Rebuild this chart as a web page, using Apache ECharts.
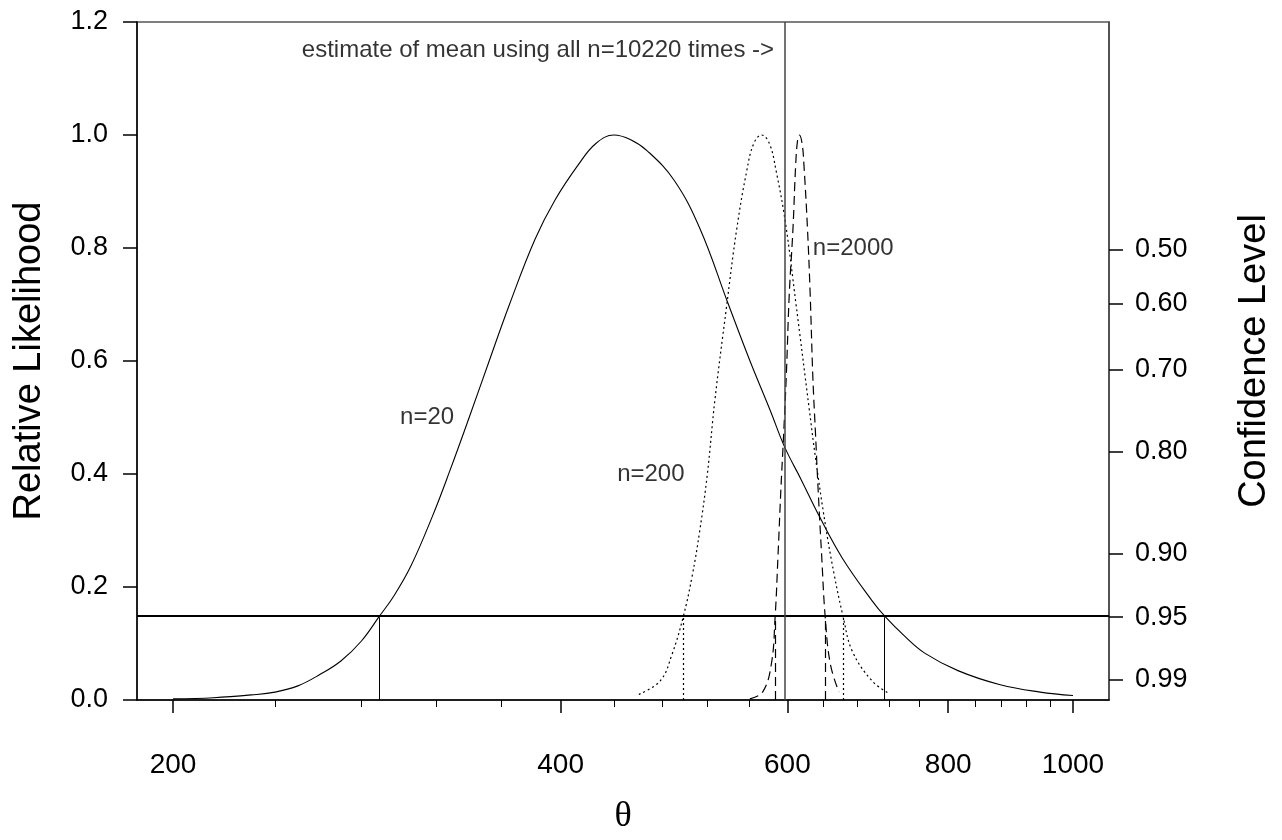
<!DOCTYPE html>
<html><head><meta charset="utf-8">
<script src="https://cdn.jsdelivr.net/npm/echarts@6/dist/echarts.min.js"></script>
<style>html,body{margin:0;padding:0;background:#fff}#c{width:1282px;height:840px}</style>
</head><body><div id="c"></div>
<script>
// ---- data ----
const xMajorTicks = [200, 400, 600, 800, 1000];
const xMinorTicks = [240, 280, 320, 360, 440, 480, 520, 560, 640, 680, 720, 760, 840, 880, 920, 960];
const confLabels = ['0.50', '0.60', '0.70', '0.80', '0.90', '0.95', '0.99'];
const confLikelihood = [0.7965, 0.7022, 0.5844, 0.4399, 0.2585, 0.1465, 0.0362];
const cutoff95 = 0.1465;
const meanAll = 597;

const n20 = [[200,0.002],[215,0.004],[230,0.009],[240,0.014],[250,0.025],[260,0.045],[270,0.069],[280,0.104],[289,0.147],[297,0.185],[306,0.237],[318,0.325],[328,0.405],[340,0.503],[352,0.60],[365,0.70],[382,0.815],[396,0.885],[413,0.948],[426,0.985],[440,1.0],[453,0.992],[467,0.972],[490,0.92],[513,0.835],[540,0.70],[561,0.601],[582,0.512],[597,0.448],[615,0.39],[635,0.326],[662,0.251],[698,0.176],[715,0.147],[740,0.113],[767,0.083],[814,0.052],[878,0.027],[943,0.014],[1000,0.008]];
const n200 = [[460,0.01],[478,0.034],[488,0.08],[498,0.147],[506,0.219],[513,0.30],[520,0.40],[527,0.53],[538,0.694],[548,0.833],[558,0.937],[565,0.985],[573,1.0],[581,0.985],[588,0.937],[598,0.844],[609,0.705],[624,0.514],[631,0.428],[642,0.312],[652,0.225],[663,0.147],[674,0.086],[698,0.034],[719,0.012]];
const n2000 = [[561,0.002],[574,0.014],[583,0.063],[587,0.147],[590,0.254],[593,0.37],[596,0.47],[599,0.58],[602,0.717],[606,0.833],[609,0.948],[611,0.99],[613,1.0],[616,0.985],[618,0.948],[622,0.833],[625,0.717],[628,0.57],[631,0.47],[634,0.37],[638,0.254],[642,0.147],[648,0.063],[658,0.014]];
const ci20 = [289, 714];
const ci200 = [498, 663];
const ci2000 = [587, 642];
const curveLabels = ['n=20', 'n=200', 'n=2000'];
const curveLabelAt = [[315, 0.5], [470, 0.4], [675, 0.8]];
const topNote = 'estimate of mean using all n=10220 times ->';
const topNoteAt = [meanAll, 1.15];

// ---- chart ----
const SANS = '"Liberation Sans", Arial, Helvetica, sans-serif';
const chart = echarts.init(document.getElementById('c'), null, {renderer: 'canvas'});

function ciLines(ci) {
  return ci.map(t => [{coord: [t, 0]}, {coord: [t, cutoff95]}]);
}
function nearestConf(v) {
  let best = 0;
  confLikelihood.forEach((c, i) => { if (Math.abs(c - v) < Math.abs(confLikelihood[best] - v)) best = i; });
  return confLabels[best];
}

const option = {
  animation: false,
  backgroundColor: '#fff',
  textStyle: {fontFamily: SANS, color: '#000'},
  grid: {left: 137, right: 161, top: 22, bottom: 127, show: true, borderColor: '#555', borderWidth: 1.5, containLabel: false},
  xAxis: [
    {
      type: 'log', logBase: 10, min: 187.5, max: 1066.5, position: 'bottom',
      axisLine: {show: true, onZero: false, lineStyle: {color: '#000', width: 1.5}},
      axisTick: {show: true, customValues: xMajorTicks, length: 13, lineStyle: {color: '#000', width: 1.5}},
      axisLabel: {show: true, customValues: xMajorTicks, formatter: v => String(Math.round(v)), fontSize: 28, color: '#000', margin: 51, fontFamily: SANS},
      splitLine: {show: false}, minorTick: {show: false},
      name: 'θ', nameLocation: 'middle', nameGap: 99,
      nameTextStyle: {fontFamily: '"Liberation Serif", "DejaVu Serif", serif', fontSize: 36, color: '#000'}
    },
    {
      type: 'log', logBase: 10, min: 187.5, max: 1066.5, position: 'bottom',
      axisLine: {show: false, onZero: false},
      axisTick: {show: true, customValues: xMinorTicks, length: 7, lineStyle: {color: '#000', width: 1}},
      axisLabel: {show: false}, splitLine: {show: false}
    }
  ],
  yAxis: [
    {
      type: 'value', min: 0, max: 1.2, interval: 0.2, position: 'left',
      axisLine: {show: true, onZero: false, lineStyle: {color: '#000', width: 1.5}},
      axisTick: {show: true, length: 14, lineStyle: {color: '#000', width: 1.5}},
      axisLabel: {formatter: v => v.toFixed(1), fontSize: 27, margin: 29, color: '#000', fontFamily: SANS},
      splitLine: {show: false},
      name: 'Relative Likelihood', nameLocation: 'middle', nameRotate: 90, nameGap: 88,
      nameTextStyle: {fontSize: 38, color: '#000', fontFamily: SANS}
    },
    {
      type: 'value', min: 0, max: 1.2, position: 'right',
      axisLine: {show: true, onZero: false, lineStyle: {color: '#444', width: 1.5}},
      axisTick: {show: true, customValues: confLikelihood, length: 14, lineStyle: {color: '#000', width: 1.5}},
      axisLabel: {show: true, customValues: confLikelihood, formatter: v => nearestConf(v), fontSize: 27, margin: 26, color: '#000', fontFamily: SANS},
      splitLine: {show: false},
      name: 'Confidence Level', nameLocation: 'middle', nameRotate: 90, nameGap: 127,
      nameTextStyle: {fontSize: 38, color: '#000', fontFamily: SANS}
    }
  ],
  series: [
    {
      name: 'n=20', type: 'line', data: n20, showSymbol: false, symbol: 'none', smooth: 0.4,
      lineStyle: {color: '#000', width: 1.1, type: 'solid'}, silent: true,
      markLine: {
        silent: true, symbol: ['none', 'none'], label: {show: false},
        data: [
          {yAxis: cutoff95, lineStyle: {color: '#000', width: 2, type: 'solid'}},
          {xAxis: meanAll, lineStyle: {color: '#444', width: 1.5, type: 'solid'}},
          ...ciLines(ci20).map(p => { p[0].lineStyle = {color: '#000', width: 1, type: 'solid'}; return p; })
        ]
      }
    },
    {
      name: 'n=200', type: 'line', data: n200, showSymbol: false, symbol: 'none', smooth: 0.4,
      lineStyle: {color: '#000', width: 1.2, type: [2, 3]}, silent: true,
      markLine: {
        silent: true, symbol: ['none', 'none'], label: {show: false},
        lineStyle: {color: '#000', width: 1.2, type: [2, 3]},
        data: ciLines(ci200)
      }
    },
    {
      name: 'n=2000', type: 'line', data: n2000, showSymbol: false, symbol: 'none', smooth: 0.4,
      lineStyle: {color: '#000', width: 1.2, type: [9, 5]}, silent: true,
      markLine: {
        silent: true, symbol: ['none', 'none'], label: {show: false},
        lineStyle: {color: '#000', width: 1.2, type: [9, 5]},
        data: ciLines(ci2000)
      }
    },
    {
      name: 'notes', type: 'scatter', symbolSize: 1, itemStyle: {color: 'rgba(0,0,0,0)'}, silent: true,
      data: [
        ...curveLabels.map((t, i) => ({value: curveLabelAt[i], name: t,
          label: {show: true, position: 'inside', formatter: t, fontSize: 24, color: '#000', fontFamily: SANS}})),
        {value: topNoteAt, name: topNote,
          label: {show: true, position: 'left', distance: 10, formatter: topNote, fontSize: 24, color: '#000', fontFamily: SANS}}
      ]
    }
  ]
};
chart.setOption(option);
</script>
</body></html>
